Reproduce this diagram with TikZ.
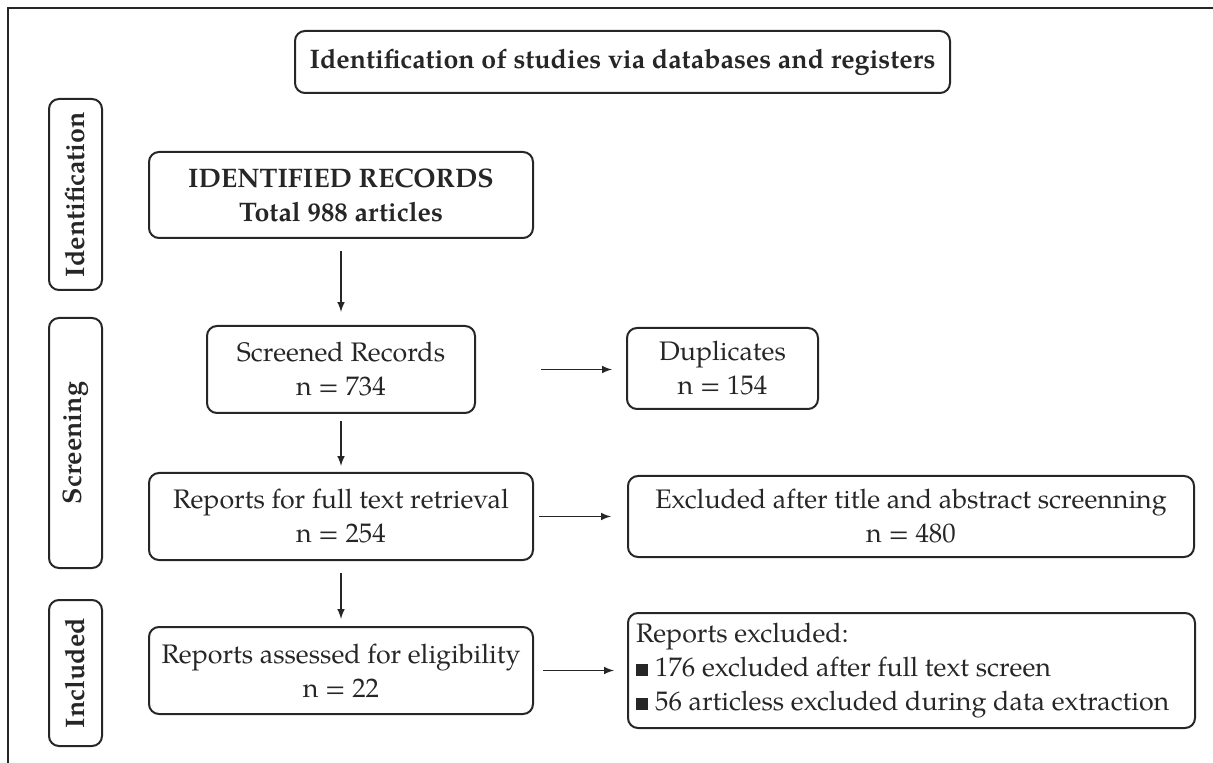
\documentclass[tikz,border=0pt]{standalone}
\usepackage{fontspec}
\setmainfont{TeX Gyre Pagella}
\usetikzlibrary{arrows}
\usetikzlibrary{calc}

\tikzset{
	box/.style={draw, rounded corners=5pt, line width=1pt, align=center, inner sep=4pt, font=\fontsize{13.4}{17}\selectfont},
	boldbox/.style={box, font=\fontsize{13.4}{17}\selectfont\bfseries},
	sidebox/.style={boldbox, rotate=90, minimum height=26.5pt},
	flow/.style={->, line width=0.7pt},
}

\begin{document}
\begin{tikzpicture}[x=0.5pt, y=-0.5pt, >=latex, color=black!85]
			\useasboundingbox (0,0) rectangle (1213,763);
			\draw [line width=1pt] (1213,8) -- (8,8) -- (8,763);
			\node [boldbox, minimum width=327.5pt, minimum height=31pt] (title) at (622.5,62) {Identification of studies via databases and registers};
			\node [sidebox, minimum width=95.5pt] (idside) at (75.5,194.5) {Identification};
			\node [sidebox, minimum width=125pt] (scrside) at (75.5,443) {Screening};
			\node [sidebox, minimum width=73pt] (incside) at (75.5,673) {Included};
			\node [boldbox, minimum width=192pt, minimum height=43pt] (ident) at (341,195) {IDENTIFIED RECORDS\\Total 988 articles};
			\node [box, minimum width=134pt, minimum height=43.5pt] (screened) at (341,369.5) {Screened Records\\n = 734};
			\node [box, minimum width=192pt, minimum height=43.5pt] (retrieval) at (341,516.5) {Reports for full text retrieval\\n = 254};
			\node [box, minimum width=192pt, minimum height=43.5pt] (assessed) at (341,670.5) {Reports assessed for eligibility\\n = 22};
			\node [box, minimum width=95.5pt, minimum height=40.5pt] (dup) at (722.5,368.5) {Duplicates\\n = 154};
			\node [box, minimum width=283pt, minimum height=40.5pt] (excla) at (911,516.5) {Excluded after title and abstract screenning\\n = 480};
			\node [box, align=flush left, text width=275.5pt, minimum height=57.5pt] (exclb) at (911.5,670.5) {Reports excluded:\\\rule{6.2pt}{6.2pt} 176 excluded after full text screen\\\rule{6.2pt}{6.2pt} 56 articless excluded during data extraction};
			\draw [flow, shorten <=6pt, shorten >=6.5pt] (ident) -- (screened);
			\draw [flow, shorten <=3.5pt, shorten >=3pt] (screened) -- (retrieval);
			\draw [flow, shorten <=6pt, shorten >=3.5pt] (retrieval) -- (assessed);
			\draw [flow, shorten <=32.5pt, shorten >=7pt] (screened.east) -- (screened.east -| dup.west);
			\draw [flow, shorten <=2.5pt, shorten >=8pt] (retrieval.east) -- (retrieval.east -| excla.west);
			\draw [flow, shorten <=4.5pt, shorten >=6.5pt] (assessed.east) -- (assessed.east -| exclb.west);
		\end{tikzpicture}
\end{document}
